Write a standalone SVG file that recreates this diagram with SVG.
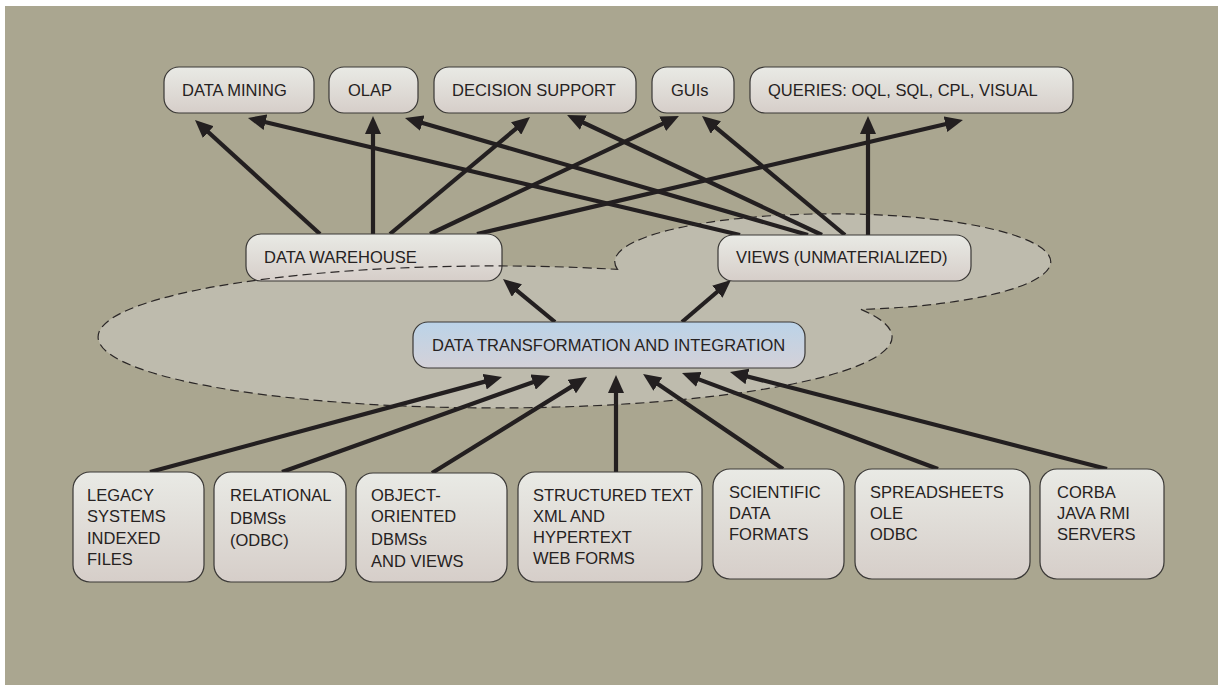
<svg xmlns="http://www.w3.org/2000/svg" width="1223" height="690" viewBox="0 0 1223 690">
<defs>
<linearGradient id="gBox" x1="0" y1="0" x2="0" y2="1">
<stop offset="0" stop-color="#e9eae5"/>
<stop offset="1" stop-color="#d6cec9"/>
</linearGradient>
<linearGradient id="gBlue" x1="0" y1="0" x2="0" y2="1">
<stop offset="0" stop-color="#bbd3e8"/>
<stop offset="1" stop-color="#d4d1d8"/>
</linearGradient>
<marker id="ah" viewBox="0 0 18 16" refX="5" refY="8" markerWidth="18" markerHeight="16" markerUnits="userSpaceOnUse" orient="auto">
<path d="M0,0 L18,8 L0,16 z" fill="#231f20"/>
</marker>
</defs>
<style>
.box{fill:url(#gBox);stroke:#3a3836;stroke-width:1.2}
.blue{fill:url(#gBlue);stroke:#3a3836;stroke-width:1.2}
.t{font-family:"Liberation Sans",Arial,sans-serif;font-size:16.5px;fill:#262222}
.c line{stroke:#231f20;stroke-width:4.2;marker-end:url(#ah)}
.cloud{fill:#bebbad;stroke:none}
.cloudline{fill:none;stroke:#2b2727;stroke-width:1.2;stroke-dasharray:9 5}
</style>
<rect x="0" y="0" width="1223" height="690" fill="#ffffff"/>
<rect x="5" y="6" width="1213" height="679" fill="#aaa690"/>
<path id="cloud" class="cloud" d="M617.5,269.4 A218,48 0 1 1 861,309.4 A397,71 0 1 1 617.5,269.4 Z"/>
<g id="connectors" class="c">
<line x1="320" y1="234" x2="204.6" y2="128.8"/>
<line x1="373" y1="234" x2="373" y2="129"/>
<line x1="390" y1="234" x2="520" y2="125.3"/>
<line x1="430" y1="234" x2="667.2" y2="121.6"/>
<line x1="477" y1="234" x2="950.3" y2="123"/>
<line x1="740" y1="235" x2="260.6" y2="121"/>
<line x1="808" y1="235" x2="417.5" y2="121.6"/>
<line x1="822" y1="235" x2="578.8" y2="120.5"/>
<line x1="845" y1="235" x2="712" y2="124.3"/>
<line x1="868" y1="235" x2="868" y2="129"/>
<line x1="555" y1="322" x2="513" y2="287.3"/>
<line x1="682" y1="322" x2="721.1" y2="288.5"/>
<line x1="150" y1="472" x2="489.5" y2="380.4"/>
<line x1="282" y1="472" x2="537.8" y2="380.4"/>
<line x1="432" y1="473" x2="576" y2="383.9"/>
<line x1="616" y1="472" x2="616" y2="388"/>
<line x1="783" y1="469" x2="653.8" y2="381.3"/>
<line x1="938" y1="469" x2="694.2" y2="377.6"/>
<line x1="1107" y1="469" x2="742.6" y2="375.2"/>
</g>
<g id="n-datamining"><rect class="box" x="164" y="67" width="150" height="46" rx="15"/><text class="t" x="182" y="96">DATA MINING</text></g>
<g id="n-olap"><rect class="box" x="329" y="67" width="89" height="46" rx="15"/><text class="t" x="348" y="96">OLAP</text></g>
<g id="n-decision"><rect class="box" x="434" y="67" width="202" height="46" rx="15"/><text class="t" x="452" y="96">DECISION SUPPORT</text></g>
<g id="n-guis"><rect class="box" x="652" y="67" width="82" height="46" rx="15"/><text class="t" x="671" y="96">GUIs</text></g>
<g id="n-queries"><rect class="box" x="750" y="67" width="323" height="46" rx="15"/><text class="t" x="768" y="96">QUERIES: OQL, SQL, CPL, VISUAL</text></g>
<g id="n-warehouse"><rect class="box" x="246" y="234" width="256" height="47" rx="15"/><text class="t" x="264" y="263">DATA WAREHOUSE</text></g>
<g id="n-views"><rect class="box" x="718" y="235" width="253" height="46" rx="15"/><text class="t" x="736" y="263">VIEWS (UNMATERIALIZED)</text></g>
<g id="n-transform"><rect class="blue" x="413" y="322" width="392" height="46" rx="15"/><text class="t" x="432" y="351">DATA TRANSFORMATION AND INTEGRATION</text></g>
<path class="cloudline" d="M617.5,269.4 A218,48 0 1 1 861,309.4 A397,71 0 1 1 617.5,269.4 Z"/>
<g id="n-legacy"><rect class="box" x="73" y="472" width="131" height="110" rx="17"/><text class="t" x="87" y="501">LEGACY</text><text class="t" x="87" y="522">SYSTEMS</text><text class="t" x="87" y="544">INDEXED</text><text class="t" x="87" y="565">FILES</text></g>
<g id="n-relational"><rect class="box" x="214" y="472" width="132" height="110" rx="17"/><text class="t" x="230" y="501">RELATIONAL</text><text class="t" x="230" y="524">DBMSs</text><text class="t" x="230" y="546">(ODBC)</text></g>
<g id="n-oo"><rect class="box" x="356" y="473" width="151" height="109" rx="17"/><text class="t" x="371" y="501">OBJECT-</text><text class="t" x="371" y="522">ORIENTED</text><text class="t" x="371" y="545">DBMSs</text><text class="t" x="371" y="567">AND VIEWS</text></g>
<g id="n-structured"><rect class="box" x="518" y="472" width="184" height="110" rx="17"/><text class="t" x="533" y="501">STRUCTURED TEXT</text><text class="t" x="533" y="522">XML AND</text><text class="t" x="533" y="543">HYPERTEXT</text><text class="t" x="533" y="564">WEB FORMS</text></g>
<g id="n-scientific"><rect class="box" x="713" y="469" width="131" height="110" rx="17"/><text class="t" x="729" y="498">SCIENTIFIC</text><text class="t" x="729" y="519">DATA</text><text class="t" x="729" y="540">FORMATS</text></g>
<g id="n-spreadsheets"><rect class="box" x="855" y="469" width="175" height="110" rx="17"/><text class="t" x="870" y="498">SPREADSHEETS</text><text class="t" x="870" y="519">OLE</text><text class="t" x="870" y="540">ODBC</text></g>
<g id="n-corba"><rect class="box" x="1040" y="469" width="124" height="110" rx="17"/><text class="t" x="1057" y="498">CORBA</text><text class="t" x="1057" y="519">JAVA RMI</text><text class="t" x="1057" y="540">SERVERS</text></g>
</svg>
